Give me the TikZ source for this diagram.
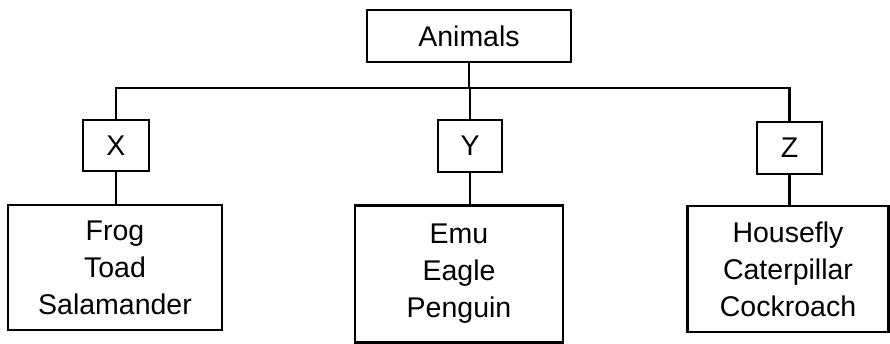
\documentclass[tikz,border=0pt]{standalone}
\usepackage{fontspec}
\setmainfont{Liberation Sans}
\begin{document}
\begin{tikzpicture}[x=1pt,y=-1pt,
  line width=2.2pt,
  boxnode/.style={draw, line width=2.2pt, inner sep=0pt, align=center,
    font=\fontsize{28.5}{37}\selectfont},
  conn/.style={line width=2.2pt}]
\useasboundingbox (0,0) rectangle (890,344);
\node[boxnode, minimum width=204, minimum height=52] (A) at (469,36) {Animals};
\node[boxnode, minimum width=66, minimum height=51] (X) at (116,145.5) {X};
\node[boxnode, minimum width=64, minimum height=52] (Y) at (470,146) {Y};
\node[boxnode, minimum width=65, minimum height=52] (Z) at (789.5,148) {Z};
\node[boxnode, minimum width=214, minimum height=125] (L) at (115,267.5) {Frog\\Toad\\Salamander};
\node[boxnode, minimum width=208, minimum height=137] (M) at (459,274) {Emu\\Eagle\\Penguin};
\node[boxnode, minimum width=201, minimum height=126] (R) at (788,269) {Housefly\\Caterpillar\\Cockroach};
\coordinate (bus) at (469,88);
\draw[conn] (A.south) -- (A.south |- bus);
\draw[conn] (X.north) -- (X.north |- bus) -- (Z.north |- bus) -- (Z.north);
\draw[conn] (Y.north) -- (Y.north |- bus);
\draw[conn] (X.south) -- (X.south |- L.north);
\draw[conn] (Y.south) -- (Y.south |- M.north);
\draw[conn] (Z.south) -- (Z.south |- R.north);
\end{tikzpicture}
\end{document}
